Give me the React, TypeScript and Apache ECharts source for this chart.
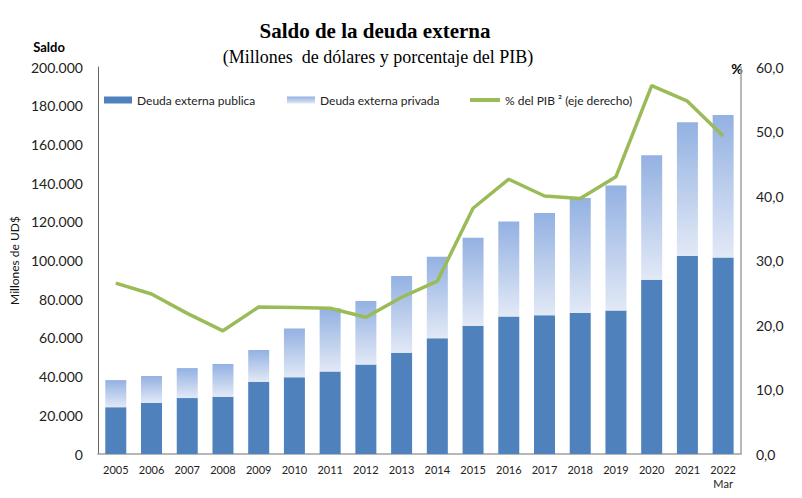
import React, { useEffect, useRef } from "react";
import * as echarts from "echarts";

const years = ["2005", "2006", "2007", "2008", "2009", "2010", "2011", "2012", "2013", "2014", "2015", "2016", "2017", "2018", "2019", "2020", "2021", "2022\nMar"];
const deudaPublica = [24200, 26500, 28900, 29600, 37400, 39600, 42700, 46200, 52300, 59800, 66300, 71000, 71700, 72900, 74100, 90100, 102300, 101600];
const deudaPrivada = [14000, 13800, 15500, 16900, 16300, 25300, 32600, 32900, 39700, 42200, 45500, 49200, 52800, 59400, 64700, 64300, 69100, 73600];
const pctPIB = [26.5, 24.8, 21.8, 19.1, 22.8, 22.7, 22.6, 21.2, 24.3, 26.8, 38.1, 42.6, 40.0, 39.6, 43.0, 57.1, 54.7, 49.3];

const FONT = "Lato, 'Open Sans', sans-serif";

function fmtThousands(v: number): string {
  return String(Math.round(v)).replace(/\B(?=(\d{3})+(?!\d))/g, ".");
}

export default function App() {
  const ref = useRef<HTMLDivElement>(null);
  useEffect(() => {
    if (!ref.current) return;
    const chart = echarts.init(ref.current, null, { renderer: "svg" });
    const privGradient = new echarts.graphic.LinearGradient(0, 0, 0, 1, [
      { offset: 0, color: "#93b1e2" },
      { offset: 1, color: "#e2e9f6" },
    ]);
    const legendText = { fontFamily: FONT, fontSize: 12, color: "#222" };
    chart.setOption({
      animation: false,
      backgroundColor: "#ffffff",
      textStyle: { fontFamily: FONT },
      grid: { left: 92, right: 61, top: 67, bottom: 44, containLabel: false },
      legend: [
        { data: ["Deuda externa publica"], left: 104, top: 94, padding: 0, itemWidth: 28, itemHeight: 7, itemGap: 3, icon: "rect", textStyle: legendText },
        { data: ["Deuda externa privada"], left: 287, top: 94, padding: 0, itemWidth: 28, itemHeight: 7, icon: "rect", textStyle: legendText },
        { data: ["% del PIB ² (eje derecho)"], left: 470, top: 94, padding: 0, itemWidth: 30, itemHeight: 4, icon: "rect", textStyle: legendText },
      ],
      graphic: [
        {
          type: "text", x: 375, y: 31,
          style: { text: "Saldo de la deuda externa", font: "bold 21px 'Liberation Serif', 'Times New Roman', serif", fill: "#000", align: "center", verticalAlign: "middle" },
        },
        {
          type: "text", x: 378, y: 57,
          style: { text: "(Millones  de dólares y porcentaje del PIB)", font: "18px 'Liberation Serif', 'Times New Roman', serif", fill: "#000", align: "center", verticalAlign: "middle" },
        },
        {
          type: "text", x: 49, y: 47,
          style: { text: "Saldo", font: "bold 13px " + FONT, fill: "#000", align: "center", verticalAlign: "middle" },
        },
        {
          type: "text", x: 737, y: 68,
          style: { text: "%", font: "bold 14px " + FONT, fill: "#000", align: "center", verticalAlign: "middle" },
        },
      ],
      xAxis: {
        type: "category",
        data: years,
        axisLine: { lineStyle: { color: "#a0a0a0", width: 1.5 } },
        axisTick: { show: false },
        axisLabel: { fontFamily: FONT, fontSize: 11, color: "#222", margin: 8, interval: 0, lineHeight: 14 },
      },
      yAxis: [
        {
          type: "value", min: 0, max: 200000, interval: 20000,
          name: "Millones de UD$", nameLocation: "middle", nameGap: 74, nameRotate: 90,
          nameTextStyle: { fontFamily: FONT, fontSize: 12, color: "#111" },
          axisLine: { show: true, lineStyle: { color: "#666", width: 1 } },
          axisTick: { show: false },
          splitLine: { show: false },
          axisLabel: { fontFamily: FONT, fontSize: 14, color: "#222", margin: 15, formatter: (v: number) => fmtThousands(v) },
        },
        {
          type: "value", min: 0, max: 60, interval: 10, position: "right",
          axisLine: { show: true, lineStyle: { color: "#a0a0a0", width: 1.5 } },
          axisTick: { show: false },
          splitLine: { show: false },
          axisLabel: { fontFamily: FONT, fontSize: 14, color: "#222", margin: 15, formatter: (v: number) => v.toFixed(1).replace(".", ",") },
        },
      ],
      series: [
        {
          name: "Deuda externa publica", type: "bar", stack: "deuda", data: deudaPublica,
          barWidth: 21, itemStyle: { color: "#4f81bd" },
        },
        {
          name: "Deuda externa privada", type: "bar", stack: "deuda", data: deudaPrivada,
          barWidth: 21, itemStyle: { color: privGradient },
        },
        {
          name: "% del PIB ² (eje derecho)", type: "line", yAxisIndex: 1, data: pctPIB,
          symbol: "none", lineStyle: { color: "#9bbb59", width: 3.5 }, itemStyle: { color: "#9bbb59" },
        },
      ],
    });
    return () => chart.dispose();
  }, []);
  return <div ref={ref} style={{ width: 802, height: 498, margin: -8 }} />;
}
